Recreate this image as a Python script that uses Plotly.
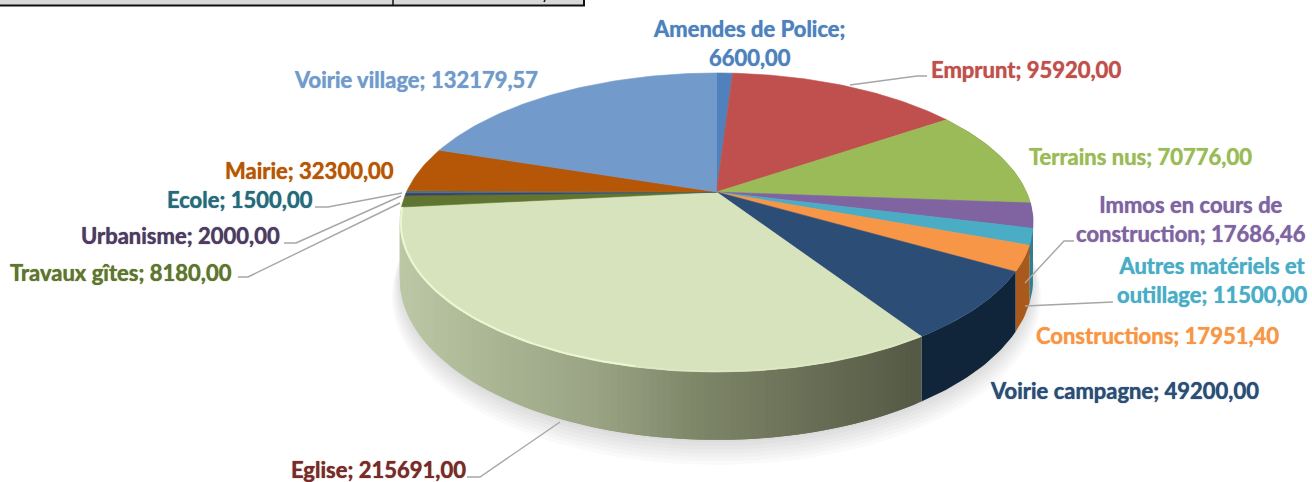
import math
import plotly.graph_objects as go

# ---- data ----
categories = ["Amendes de Police", "Emprunt", "Terrains nus", "Immos en cours de construction",
              "Autres matériels et outillage", "Constructions", "Voirie campagne", "Eglise",
              "Travaux gîtes", "Urbanisme", "Ecole", "Mairie", "Voirie village"]
values = [6600.00, 95920.00, 70776.00, 17686.46, 11500.00, 17951.40, 49200.00, 215691.00,
          8180.00, 2000.00, 1500.00, 32300.00, 132179.57]
top_colors = ["#4f81bd", "#c0504d", "#9bbb59", "#8064a2", "#4bacc6", "#f79646", "#2c4d75", "#d7e3bc",
              "#5f7530", "#4d3b62", "#2c7c8f", "#b65708", "#729aca"]
side_colors = ["#2f4d71", "#73302e", "#5d7035", "#5a4676", "#2f7f93", "#a8591b", "#10253a", None,
               "#39461d", "#2e233b", "#1a4a56", "#6d3405", "#445c79"]
text_colors = ["#4f81bd", "#c0504d", "#9bbb59", "#8064a2", "#4bacc6", "#f79646", "#2c4d75", "#772c2a",
               "#5f7530", "#4d3b62", "#276a7c", "#b65708", "#729aca"]
line_breaks = {"Amendes de Police": ("Amendes de Police;", ""),
               "Immos en cours de construction": ("Immos en cours de", "construction;"),
               "Autres matériels et outillage": ("Autres matériels et", "outillage;")}

# ---- layout of the drawing (pixel-like axis space) ----
W, H = 1312, 482
CX, CY, B, A, K, D = 716.5, 192, 310, 143.3, 0.204, 54
FONT = "Lato"
FONT_SIZE = 22


def project(theta, r=1.0, drop=0.0):
    u, v = r * math.sin(theta), r * math.cos(theta)
    s = 1 / (1 + K * v)
    return CX + B * u * s, CY - A * v * s + drop * s


def hex_rgb(h):
    return tuple(int(h[i:i + 2], 16) for i in (1, 3, 5))


def lerp_stops(x, stops):
    if x <= stops[0][0]:
        return stops[0][1]
    for (x0, c0), (x1, c1) in zip(stops, stops[1:]):
        if x <= x1:
            t = (x - x0) / (x1 - x0)
            a, b = hex_rgb(c0), hex_rgb(c1)
            return "rgb(%d,%d,%d)" % tuple(a[i] + (b[i] - a[i]) * t for i in range(3))
    return stops[-1][1]


EGLISE_STOPS = [(400, "#bcc8a6"), (500, "#aab594"), (600, "#9aa485"), (700, "#7f8769"),
                (800, "#6c7258"), (920, "#555a46")]

fig = go.Figure()


def poly(xs, ys, color, lw=0.6, lc=None):
    fig.add_trace(go.Scatter(x=xs, y=ys, mode="lines", fill="toself", fillcolor=color,
                             line=dict(color=lc or color, width=lw), hoverinfo="skip", showlegend=False))


def path(xs, ys, color, lw):
    fig.add_trace(go.Scatter(x=xs, y=ys, mode="lines", line=dict(color=color, width=lw),
                             hoverinfo="skip", showlegend=False))


total = sum(values)
edges = [0.0]
for val in values:
    edges.append(edges[-1] + val / total * 2 * math.pi)

# soft shadow under the disc
for i in range(7):
    pts = [project(2 * math.pi * j / 120, 1.0 + 0.004 * i, D + 2 + 2.2 * i) for j in range(121)]
    poly([p[0] for p in pts], [p[1] for p in pts], "rgba(60,60,60,0.022)", lw=0)

# side walls
for i, (a0, a1) in enumerate(zip(edges, edges[1:])):
    if side_colors[i] is None:
        # shaded wall: overlapping vertical strips, later strips cover the joins
        n = max(2, int((a1 - a0) / math.radians(1.0)))
        for j in range(n):
            t0 = a0 + (a1 - a0) * j / n
            t1 = a0 + (a1 - a0) * min(j + 2, n) / n
            xs = [project(t0)[0], project(t1)[0], project(t1, drop=D)[0], project(t0, drop=D)[0]]
            ys = [project(t0)[1], project(t1)[1], project(t1, drop=D)[1], project(t0, drop=D)[1]]
            poly(xs, ys, lerp_stops(project(t0)[0], EGLISE_STOPS), lw=0)
    elif a0 < math.pi and math.cos(a1) < 0.3:
        n = max(2, int((a1 - a0) / math.radians(1.0)))
        ts = [a0 + (a1 - a0) * j / n for j in range(n + 1)]
        upper = [project(t) for t in ts]
        lower = [project(t, drop=D) for t in reversed(ts)]
        poly([p[0] for p in upper + lower], [p[1] for p in upper + lower], side_colors[i], lw=0)

# top faces
for i, (a0, a1) in enumerate(zip(edges, edges[1:])):
    n = max(2, int((a1 - a0) / math.radians(1)))
    pts = [project(a0 + (a1 - a0) * j / n) for j in range(n + 1)]
    poly([CX] + [p[0] for p in pts] + [CX], [CY] + [p[1] for p in pts] + [CY], top_colors[i])

# bright bevel along the left part of the rim of the large front slice
a1 = edges[8]
a0 = a1 - math.radians(72)
pts = [project(a0 + (a1 - a0) * j / 60, 0.997) for j in range(61)]
path([p[0] for p in pts], [p[1] for p in pts], "#edf5d3", 2)
pts = [project(edges[7] + (a0 - edges[7]) * j / 40, 0.997) for j in range(41)]
path([p[0] for p in pts], [p[1] for p in pts], "#dfe8c6", 1.5)

# leader lines
leaders = {
    "Emprunt": ([850, 917, 927], [85, 76, 76]),
    "Ecole": ([402, 328, 315], [193, 207, 207]),
    "Urbanisme": ([401, 296, 284], [196, 243, 243]),
    "Travaux gîtes": ([400, 248, 238], [203, 277, 277]),
    "Eglise": ([560, 480, 467], [422, 477, 477]),
    "Immos en cours de construction": ([1025, 1064, 1074], [283, 241, 241]),
    "Autres matériels et outillage": ([1025, 1113], [306, 302]),
}
for xs, ys in leaders.values():
    path(xs, ys, "#a6a6a6", 1.4)

# labels
label_pos = {
    "Amendes de Police": (749, 43), "Emprunt": (1026, 69), "Terrains nus": (1140, 156),
    "Immos en cours de construction": (1191, 219), "Autres matériels et outillage": (1212, 280),
    "Constructions": (1157, 335), "Voirie campagne": (1124, 390), "Eglise": (378, 469),
    "Travaux gîtes": (121, 272), "Urbanisme": (180, 235), "Ecole": (240, 199),
    "Mairie": (309, 170), "Voirie village": (416, 79),
}
annotations = []
for name, val, col in zip(categories, values, text_colors):
    num = f"{val:.2f}".replace(".", ",")
    if name in line_breaks:
        first, second = line_breaks[name]
        text = f"{first}<br>{(second + ' ' + num).strip()}"
    else:
        text = f"{name}; {num}"
    x, y = label_pos[name]
    annotations.append(dict(x=x, y=y, xref="x", yref="y", text=text, showarrow=False, align="center",
                            font=dict(family=FONT, size=FONT_SIZE, color=col, weight="bold",
                                      shadow=f"0 0 1px {col}"),
                            xanchor="center", yanchor="middle"))

# clipped table edge at the very top of the picture
shapes = [
    dict(type="rect", x0=-2, x1=584, y0=-3, y1=5.5, line=dict(color="#111111", width=2), fillcolor="#d9d9d9", layer="below"),
    dict(type="line", x0=393, x1=393, y0=-3, y1=5.5, line=dict(color="#111111", width=1.5)),
    dict(type="line", x0=545, x1=544, y0=0, y1=2, line=dict(color="#111111", width=1.5)),
]

fig.update_layout(
    width=W, height=H, margin=dict(l=0, r=0, t=0, b=0), paper_bgcolor="white", plot_bgcolor="white",
    xaxis=dict(range=[0, W], visible=False, fixedrange=True),
    yaxis=dict(range=[H, 0], visible=False, fixedrange=True),
    showlegend=False, annotations=annotations, shapes=shapes,
)
fig.write_html("out.html", config={"displayModeBar": False},
               post_script="document.body.style.margin='0';document.body.style.overflow='hidden';")
